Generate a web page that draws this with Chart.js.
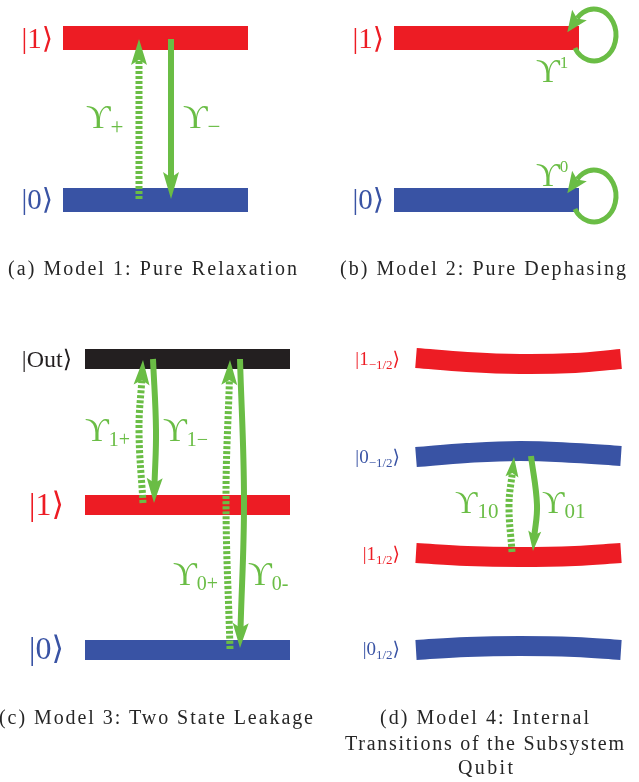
<!DOCTYPE html>
<html>
<head>
<meta charset="utf-8">
<script src="https://cdn.jsdelivr.net/npm/chart.js@4.4.0/dist/chart.umd.min.js"></script>
<style>
  html, body { margin: 0; padding: 0; background: #fff; }
  canvas { display: block; }
</style>
</head>
<body>
<canvas id="diagram" width="639" height="782"></canvas>
<script>
// colours used in the figure
const RED = '#ed1c24', BLUE = '#3953a4', BLACK = '#231f20', GREEN = '#6abd45', INK = '#262626';
const SERIF = '"Liberation Serif", "DejaVu Serif", serif';
const UPS = 'ϒ';

// ---- (a) Model 1: Pure Relaxation ----
const aStates = ['1', '0'];
const aLevelY = [38, 200];
const aSpan = [63, 248];
const aRates = ['+', '−'];
const aUp = [[139, 199], [139, 39]];          // dashed, |0> -> |1>
const aDown = [[171, 39], [171, 199]];        // solid, |1> -> |0>

// ---- (b) Model 2: Pure Dephasing ----
const bStates = ['1', '0'];
const bLevelY = [38, 200];
const bSpan = [394, 579];
const bRates = ['1', '0'];
const bLoopCenterX = 594;
const bLoopCenterY = [35, 196];

// ---- (c) Model 3: Two State Leakage ----
const cStates = ['Out', '1', '0'];
const cLevelY = [359, 505, 650];
const cSpan = [85, 290];
const cRates = ['1+', '1−', '0+', '0-'];
const cUp1 = [[143, 503], [139, 430], [143, 360]];
const cDown1 = [[153, 359], [156, 430], [154, 503]];
const cUp2 = [[230, 649], [226, 500], [230, 360]];
const cDown2 = [[240, 359], [244, 500], [240, 648]];

// ---- (d) Model 4: Internal Transitions ----
const dStates = ['1', '0', '1', '0'];
const dStateSub = ['−1/2', '−1/2', '1/2', '1/2'];
const dColors = [RED, BLUE, RED, BLUE];
const dSpanX = [416, 467, 520, 575, 621];
const dLevel1m = [358, 362, 364, 363, 359];
const dLevel0m = [457, 453, 451, 453, 456];
const dLevel1p = [553, 556, 557, 556, 553];
const dLevel0p = [650, 647, 646, 647, 650];
const dRates = ['10', '01'];
const dUp = [[512, 552], [509, 505], [514, 457]];
const dDown = [[531, 456], [537, 505], [533, 551]];

const captions = ['(a) Model 1: Pure Relaxation', '(b) Model 2: Pure Dephasing',
  '(c) Model 3: Two State Leakage', '(d) Model 4: Internal',
  'Transitions of the Subsystem', 'Qubit'];

// ---------- datasets ----------
const datasets = [];

function level(x0, x1, y, color, width) {
  datasets.push({
    data: [{x: x0, y: y}, {x: x1, y: y}],
    showLine: true, borderColor: color, borderWidth: width,
    borderCapStyle: 'butt', pointRadius: 0, order: 2
  });
}

function curvedLevel(ys, color) {
  datasets.push({
    data: dSpanX.map((x, i) => ({x: x, y: ys[i]})),
    showLine: true, borderColor: color, borderWidth: 20, tension: 0.4,
    borderCapStyle: 'butt', pointRadius: 0, order: 2
  });
}

function arrow(path, dashed, len, half) {
  const n = path.length;
  const tip = path[n - 1], prev = path[n - 2];
  const dx = tip[0] - prev[0], dy = tip[1] - prev[1], d = Math.hypot(dx, dy);
  // stop the shaft under the head
  const end = [tip[0] - dx / d * len * 0.7, tip[1] - dy / d * len * 0.7];
  const pts = path.slice(0, n - 1).concat([end]);
  datasets.push({
    data: pts.map(p => ({x: p[0], y: p[1]})),
    showLine: true, borderColor: GREEN, borderWidth: dashed ? 7 : 6,
    borderDash: dashed ? [3, 2] : [], borderCapStyle: 'butt',
    tension: n > 2 ? 0.4 : 0, pointRadius: 0, order: 1,
    head: {tip: tip, dir: [dx / d, dy / d], len: len, half: half}
  });
}

aLevelY.forEach((y, i) => level(aSpan[0], aSpan[1], y, i ? BLUE : RED, 24));
bLevelY.forEach((y, i) => level(bSpan[0], bSpan[1], y, i ? BLUE : RED, 24));
cLevelY.forEach((y, i) => level(cSpan[0], cSpan[1], y, [BLACK, RED, BLUE][i], 20));
[dLevel1m, dLevel0m, dLevel1p, dLevel0p].forEach((ys, i) => curvedLevel(ys, dColors[i]));

arrow(aUp, true, 26, 8);
arrow(aDown, false, 27, 8);
arrow(cUp1, true, 25, 8);
arrow(cDown1, false, 25, 8);
arrow(cUp2, true, 25, 8);
arrow(cDown2, false, 25, 8);
arrow(dUp, true, 20, 6.5);
arrow(dDown, false, 20, 6.5);

// ---------- drawing helpers ----------
function drawHead(ctx, tx, ty, ux, uy, len, half) {
  const bx = tx - ux * len, by = ty - uy * len;
  const nx = -uy, ny = ux;
  ctx.beginPath();
  ctx.moveTo(tx, ty);
  ctx.lineTo(bx + nx * half, by + ny * half);
  ctx.lineTo(tx - ux * len * 0.8, ty - uy * len * 0.8);
  ctx.lineTo(bx - nx * half, by - ny * half);
  ctx.closePath();
  ctx.fill();
}

function drawRich(ctx, parts, x, y, align, color) {
  // parts: [text, size, dy]
  let w = 0;
  parts.forEach(p => { ctx.font = p[1] + 'px ' + SERIF; w += ctx.measureText(p[0]).width; });
  let cx = align === 'center' ? x - w / 2 : align === 'right' ? x - w : x;
  ctx.fillStyle = color;
  parts.forEach(p => {
    ctx.font = p[1] + 'px ' + SERIF;
    ctx.fillText(p[0], cx, y + p[2]);
    cx += ctx.measureText(p[0]).width;
  });
}

function ket(state, size, sub, subSize) {
  const parts = [['|', size, 0], [state, size, 0]];
  if (sub) parts.push([sub, subSize, subSize * 0.3]);
  parts.push(['⟩', size, 0]);
  return parts;
}

function rate(sub, size, subSize, dy) {
  return [[UPS, size, 0], [sub, subSize, dy]];
}

function caption(ctx, text, left, right, base) {
  ctx.font = '20px ' + SERIF;
  ctx.letterSpacing = '0px';
  const w = ctx.measureText(text).width;
  const sp = (right - left - w) / (text.length - 1);
  ctx.letterSpacing = sp + 'px';
  ctx.fillStyle = INK;
  ctx.fillText(text, left, base);
  ctx.letterSpacing = '0px';
}

const decorations = {
  id: 'decorations',
  afterDatasetsDraw(chart) {
    const ctx = chart.ctx, sx = chart.scales.x, sy = chart.scales.y;
    const px = v => sx.getPixelForValue(v), py = v => sy.getPixelForValue(v);
    ctx.save();
    ctx.fillStyle = GREEN;
    ctx.strokeStyle = GREEN;

    // arrow heads
    chart.data.datasets.forEach(ds => {
      if (!ds.head) return;
      const h = ds.head;
      drawHead(ctx, px(h.tip[0]), py(h.tip[1]), h.dir[0], h.dir[1], h.len, h.half);
    });

    // dephasing loops of panel (b)
    const rx = 22, ry = 26, a0 = 150 * Math.PI / 180, a1 = -140 * Math.PI / 180;
    bLoopCenterY.forEach(cy => {
      const X = px(bLoopCenterX), Y = py(cy);
      ctx.lineWidth = 5;
      ctx.beginPath();
      ctx.ellipse(X, Y, rx, ry, 0, a0, a1, true);
      ctx.stroke();
      const ex = X + rx * Math.cos(a1), ey = Y + ry * Math.sin(a1);
      let ux = rx * Math.sin(a1), uy = -ry * Math.cos(a1);
      const m = Math.hypot(ux, uy);
      ux /= m; uy /= m;
      drawHead(ctx, ex + ux * 17, ey + uy * 17, ux, uy, 21, 9);
    });

    ctx.textBaseline = 'alphabetic';
    ctx.textAlign = 'left';

    // state labels
    drawRich(ctx, ket(aStates[0], 29), px(53), py(48), 'right', RED);
    drawRich(ctx, ket(aStates[1], 29), px(53), py(209), 'right', BLUE);
    drawRich(ctx, ket(bStates[0], 29), px(384), py(48), 'right', RED);
    drawRich(ctx, ket(bStates[1], 29), px(384), py(209), 'right', BLUE);
    drawRich(ctx, ket(cStates[0], 24), px(72), py(367), 'right', BLACK);
    drawRich(ctx, ket(cStates[1], 32), px(64), py(515), 'right', RED);
    drawRich(ctx, ket(cStates[2], 32), px(64), py(659), 'right', BLUE);
    const dBase = [365, 463, 560, 655];
    dStates.forEach((s, i) => {
      drawRich(ctx, ket(s, 19, dStateSub[i], 13), px(400), py(dBase[i]), 'right', dColors[i]);
    });

    // rate labels
    drawRich(ctx, rate(aRates[0], 34, 23, 6), px(86), py(128), 'left', GREEN);
    drawRich(ctx, rate(aRates[1], 34, 23, 6), px(183), py(128), 'left', GREEN);
    drawRich(ctx, [[UPS, 33, 0], [bRates[0], 17, -14]], px(536), py(82), 'left', GREEN);
    drawRich(ctx, [[UPS, 33, 0], [bRates[1], 17, -14]], px(536), py(186), 'left', GREEN);
    drawRich(ctx, rate(cRates[0], 33, 20, 5), px(85), py(441), 'left', GREEN);
    drawRich(ctx, rate(cRates[1], 33, 20, 5), px(163), py(441), 'left', GREEN);
    drawRich(ctx, rate(cRates[2], 33, 20, 5), px(173), py(585), 'left', GREEN);
    drawRich(ctx, rate(cRates[3], 33, 20, 5), px(248), py(585), 'left', GREEN);
    drawRich(ctx, rate(dRates[0], 31, 21, 5), px(455), py(513), 'left', GREEN);
    drawRich(ctx, rate(dRates[1], 31, 21, 5), px(542), py(513), 'left', GREEN);

    // captions
    caption(ctx, captions[0], px(8), px(297), py(275));
    caption(ctx, captions[1], px(340), px(626), py(275));
    caption(ctx, captions[2], px(-1), px(313), py(724));
    caption(ctx, captions[3], px(380), px(589), py(724));
    caption(ctx, captions[4], px(345), px(624), py(750));
    caption(ctx, captions[5], px(458), px(513), py(774));
    ctx.restore();
  }
};

new Chart(document.getElementById('diagram'), {
  type: 'scatter',
  data: { datasets: datasets },
  options: {
    responsive: false,
    animation: false,
    devicePixelRatio: 1,
    layout: { padding: 0 },
    plugins: { legend: { display: false }, tooltip: { enabled: false } },
    scales: {
      x: { type: 'linear', min: 0, max: 639, display: false },
      y: { type: 'linear', min: 0, max: 782, reverse: true, display: false }
    }
  },
  plugins: [decorations]
});
</script>
</body>
</html>
